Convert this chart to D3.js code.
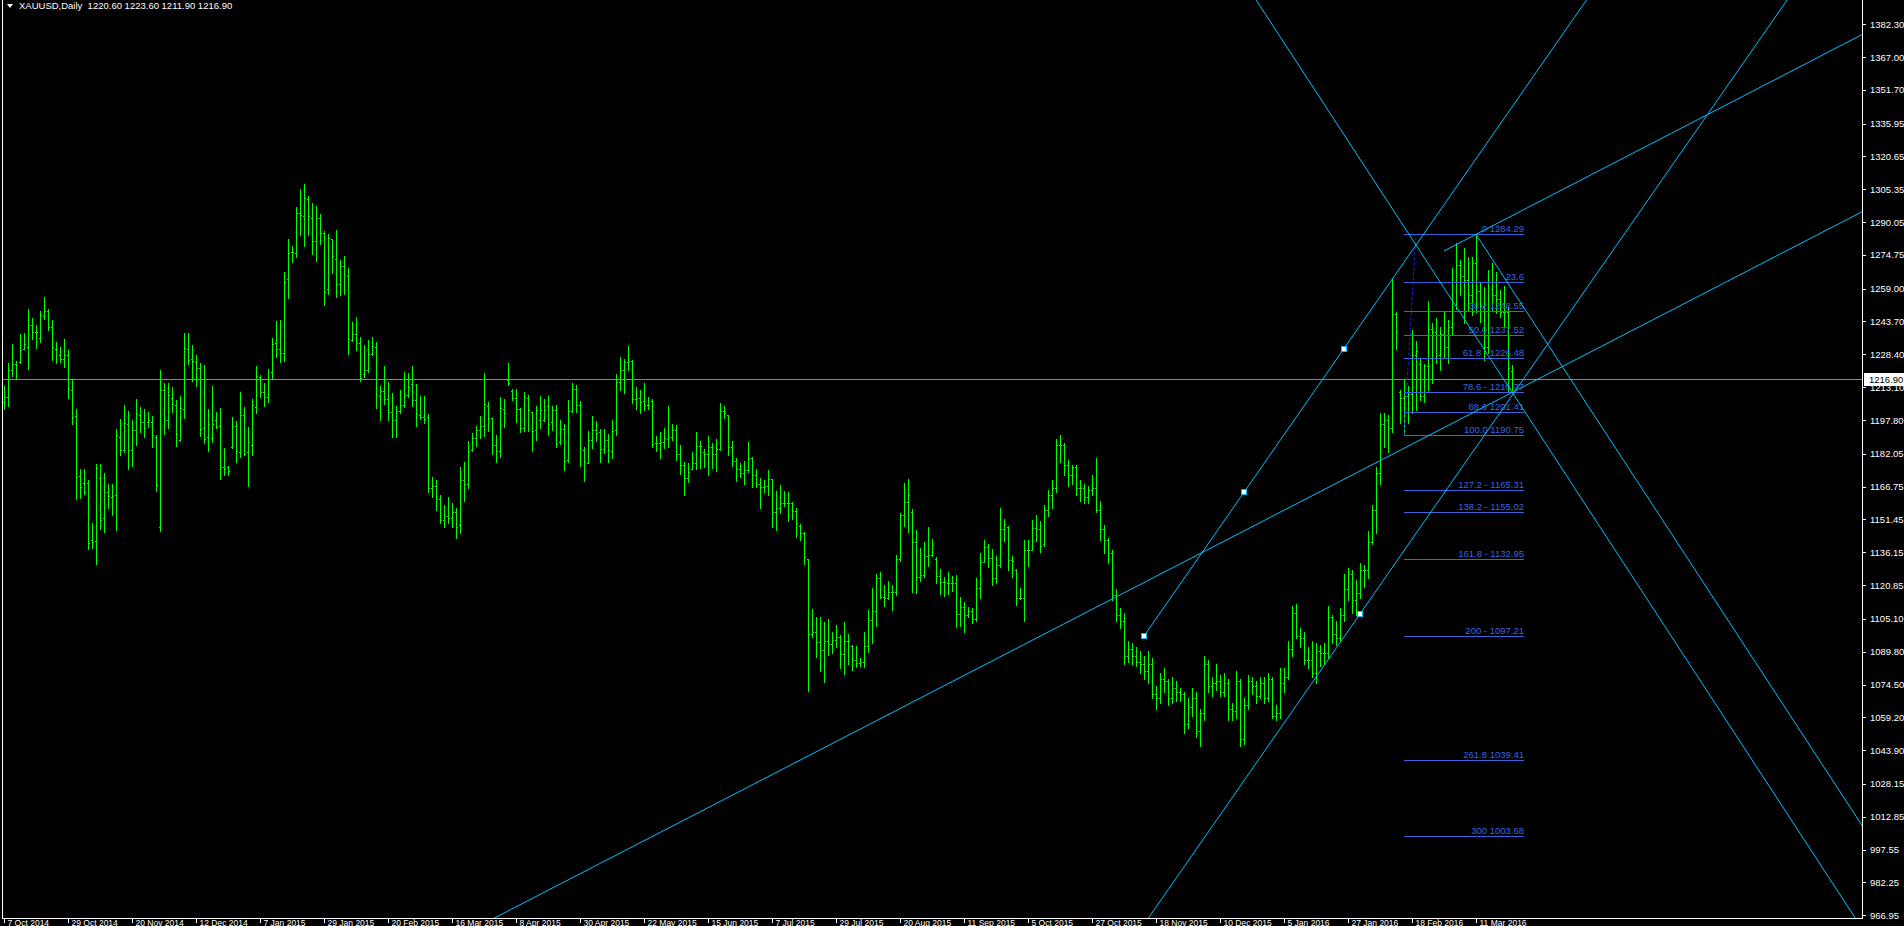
<!DOCTYPE html>
<html>
<head>
<meta charset="utf-8">
<script src="https://cdn.jsdelivr.net/npm/d3@7"></script>
<style>
html, body { margin: 0; padding: 0; background: #000; overflow: hidden; }
svg { display: block; }
text { font-family: "Liberation Sans", Arial, sans-serif; font-size: 9.5px; }
</style>
</head>
<body>
<svg id="chart" width="1904" height="926"></svg>
<script>
// daily bars, XAUUSD, 7 Oct 2014 .. 24 Mar 2016 (one entry per bar)
var barOpen = [
1206,1208.4,1221,1223.7,1225,1231,1232,1242,1239,1236,
1246.3,1248.6,1241,1231,1228,1226,1228,1212,1199.5,1171.5,
1168.4,1168.4,1141.7,1141.4,1170.6,1152,1164.1,1161.9,1162.8,1190,
1184,1196,1184,1193,1200,1197,1197,1197,1190,1147.7,
1212,1197.6,1208,1205,1188.5,1203,1231,1226,1225,1222,
1194,1190,1189.4,1198,1195,1176,1176,1185,1195,1183,
1200,1183,1186,1204,1218,1211,1208.5,1220,1233.5,1231,
1229,1263.7,1276,1275.8,1294.1,1293,1301,1292,1281,1292,
1285,1258.7,1282,1273,1261,1269.6,1265,1235,1238,1233.7,
1219,1221.1,1228.4,1232,1209,1211.5,1207.4,1201.4,1198,1202,
1204.8,1209.3,1214.6,1207,1200,1199,1199,1166,1167,1161,
1151,1153,1152,1155,1149,1170,1168,1184,1189.6,1193,
1195,1204.3,1198.6,1186,1183.3,1203,1216.4,1211.5,1208,1203,
1194,1208,1201.5,1193,1198,1198,1204.2,1196.8,1202.3,1187.7,
1193.6,1179,1201.8,1212.2,1204.8,1184,1177.9,1188.3,1193.1,1192,
1184.4,1188.5,1183.5,1193.1,1215.3,1221.1,1224.7,1225.3,1207.6,1208,
1206.6,1204.6,1206.6,1187,1187,1187.7,1189,1190,1193,1182,
1176.8,1170.6,1175,1177.6,1185.7,1183,1181.8,1185.3,1181.8,1184.3,
1201.8,1200,1185.3,1178.7,1174.9,1173.2,1174.3,1180.2,1172.1,1168.1,
1166.7,1167,1170.1,1154.7,1157,1158.9,1158.9,1159,1155.2,1148.5,
1145.3,1132.8,1098,1098.8,1094.4,1090.6,1094.6,1093.5,1095.2,1096.8,
1088.9,1094.6,1092.5,1085.9,1084.6,1084.8,1092.6,1104.4,1108.8,1124,
1115.1,1114.6,1117.4,1117.4,1132.8,1153.5,1159.4,1155,1141.1,1124.7,
1125.7,1134.4,1135,1133,1124.9,1122.1,1122,1122,1122,1107.5,
1110.6,1106.7,1108.7,1105,1119.6,1131.4,1138.7,1133.3,1124.3,1130.2,
1146.8,1148,1132.5,1128,1115,1114.6,1137,1137.2,1147.3,1146.8,
1140,1156,1163,1166,1186,1186,1177,1172,1176,1166,
1166,1162,1165,1166,1156,1147,1142,1136,1116,1107,
1104,1088,1091,1088,1085,1084,1081,1084,1070,1068,
1077,1076,1068,1073,1071,1070,1056,1064,1068,1053,
1061,1084,1074,1075,1076,1071,1075,1063,1062,1076,
1049,1065,1076,1074,1069,1075,1068,1077,1060,1061,
1075,1078,1091,1108,1097,1096,1086,1086,1080,1090,
1089,1089,1106,1098,1096,1107,1119,1126,1114,1117,
1128,1128,1141,1156,1173,1196,1198,1194,1247,1211,
1208,1209,1210,1228,1224,1209,1223,1240,1239,1228,
1238,1232,1241,1262,1270,1265,1263,1256,1271,1258,
1251,1232,1262,1256,1254,1248,1248,1220.6
];
var barHigh = [
1213.6,1224.5,1233.2,1225.4,1237.9,1238.5,1249.5,1245.3,1242.2,1248.4,
1255.1,1249.5,1244.4,1234.2,1231.7,1235.6,1230.3,1216.7,1202.9,1174.8,
1174.9,1169.8,1149.8,1177.3,1177.3,1173.1,1168,1168,1193.6,1198.4,
1204.8,1202,1197.6,1207.6,1203.8,1202.9,1201.4,1199.5,1190.8,1221.1,
1215.2,1215.2,1213,1207.3,1209,1238.3,1238.3,1232.8,1228.1,1224.2,
1223.4,1202.9,1213.5,1201.4,1203.4,1184.6,1176.5,1199,1197.3,1210.7,
1203.8,1194.7,1207.7,1223,1218.8,1215.2,1221.6,1236,1243.9,1244.4,
1266.8,1282.2,1278.9,1297.1,1305.5,1307.8,1302.4,1299,1297.7,1294,
1285.9,1284.7,1282.2,1286.4,1272.4,1274.2,1268.6,1243.3,1245.9,1236.5,
1232.8,1234.9,1236.5,1234.2,1213.6,1223,1215.5,1210.5,1204.5,1211.8,
1220.3,1219.9,1223,1214.6,1209.1,1209,1200.6,1171,1170,1163,
1158,1162,1159,1157,1176,1178,1188,1191.9,1194.8,1199.6,
1219.7,1206,1198.6,1190.8,1208.4,1207.6,1224.5,1212.1,1212.4,1203.5,
1211,1209.4,1201.5,1204.1,1209,1207.7,1209,1204.5,1204.8,1197.8,
1195.9,1207.1,1215,1213.9,1206.6,1185,1192.7,1199.5,1197.5,1193.7,
1193.7,1191.4,1197.6,1219.4,1227,1226.1,1232.3,1225.6,1213.3,1211.6,
1215,1208.7,1207.6,1190.3,1192.2,1194.1,1204.3,1196.1,1195.3,1186.1,
1178.4,1177.9,1182.9,1192.2,1188,1184.4,1190.3,1186.9,1188.9,1205.7,
1204.1,1200,1188,1180.2,1177.9,1178.7,1187.5,1180.7,1174.8,1170.9,
1170,1174.5,1170.3,1164.7,1167.5,1164.7,1164.2,1159.6,1156.8,1149.4,
1145.7,1132.8,1109.7,1105.8,1106.1,1103.6,1104.9,1098.9,1102.2,1097.4,
1103.5,1098,1092.9,1092.4,1087,1099.1,1109.1,1119.6,1125.8,1126.8,
1120.9,1122.7,1120.9,1134.7,1154.3,1168.4,1170.3,1156.4,1146.5,1138.3,
1140.9,1147.8,1142.2,1134.1,1128.3,1124.7,1126.8,1125.2,1125.5,1115.1,
1113.1,1110.4,1110,1124.3,1136,1141.8,1139.8,1137.5,1134.5,1156.8,
1151.5,1148.2,1134.5,1128.5,1119.6,1141.7,1141.8,1151.2,1153.5,1150.8,
1158,1165,1170,1189,1191,1187,1179,1177,1177,1170,
1168,1167,1172,1180,1160,1149,1143,1137,1119,1110,
1108,1095,1094,1092,1090,1088,1090,1087,1074,1080,
1082,1077,1078,1076,1073,1071,1068,1073,1071,1063,
1088,1086,1078,1084,1079,1080,1077,1066,1081,1077,
1068,1079,1078,1076,1078,1078,1080,1078,1065,1082,
1082,1095,1111,1112,1101,1099,1092,1095,1094,1093,
1094,1111,1107,1104,1110,1126,1129,1128,1123,1131,
1130,1146,1158,1176,1201,1201,1200,1263.8,1248,1211.8,
1216.4,1213.6,1239.7,1234.6,1226.5,1224,1253.4,1242.8,1245.2,1241.3,
1248.3,1244.4,1268.5,1280.1,1272.4,1278.1,1273.9,1273.9,1284.3,1262.3,
1259.9,1267.7,1270.8,1266.9,1258.4,1260.2,1250.6,1223.6
];
var barLow = [
1202.8,1204.3,1218.3,1216.7,1224.5,1230.7,1221.7,1235.4,1231.5,1234.3,
1245,1239.9,1225.8,1224.5,1225,1222.3,1208.2,1195.8,1160.9,1161.6,
1163.4,1137.5,1137.9,1130.8,1147.1,1145.7,1156.7,1153.5,1146.7,1181.5,
1183,1175,1176.5,1186.3,1192.3,1190,1194.7,1185.4,1164.8,1146.2,
1191.3,1194.2,1201.4,1185.8,1188.2,1198.9,1224,1215.8,1213.8,1190.3,
1187.2,1183.5,1187.4,1193.9,1170.4,1172.3,1172.3,1184.6,1178.4,1180.4,
1181.5,1167.2,1181.6,1201.2,1208.4,1204.5,1206.3,1216.9,1227.3,1224.7,
1225.4,1254.8,1271.6,1273.9,1284,1279.1,1284.2,1275.3,1272.1,1279.7,
1251.6,1256.5,1266.2,1255.3,1256.1,1256.4,1228.4,1234.8,1230.6,1216.1,
1217.8,1220,1228.1,1203.5,1197.6,1205.1,1197.9,1189.7,1190,1201.1,
1203.7,1208.4,1204.3,1195.1,1198.3,1196.4,1164,1162,1156,1150,
1148,1150,1148,1143,1145,1160,1166,1183.2,1185.5,1189.4,
1190.2,1192.8,1182.1,1178.4,1180.7,1194.7,1213.9,1207.3,1197,1192.3,
1192.8,1192.6,1183.5,1188.5,1194.1,1197.2,1190.8,1193.1,1185.4,1186.4,
1174.5,1178,1201.5,1201.7,1176.3,1169.5,1177.6,1184.6,1187.8,1178.2,
1182.6,1178.2,1180.2,1190.8,1211.8,1210.5,1221.1,1205.6,1203.1,1201.2,
1202.4,1203.1,1185.4,1183.5,1180.2,1184.6,1185.4,1188.5,1179.3,1172.6,
1162.7,1169,1174.8,1174.8,1175.6,1175.9,1172.3,1175.6,1174,1183.8,
1198.9,1181.6,1176.2,1169.5,1171.4,1168,1173.7,1166.5,1166.7,1156.9,
1164.2,1162.7,1147.8,1146.7,1154.6,1157.5,1150.8,1151.8,1143.2,1142,
1130.8,1071.6,1096.8,1087.1,1080.9,1075.8,1088.2,1089,1092.1,1082,
1079.5,1083.9,1081.1,1082.6,1083.3,1082.5,1089.6,1093.7,1101.8,1115,
1111.2,1114.2,1109.2,1116.2,1132,1148.4,1145.7,1117.4,1117.3,1122.6,
1124.7,1129.9,1134.4,1121.6,1116.5,1115.7,1116.5,1118.1,1101.1,1101.9,
1098.8,1105.8,1103,1104.2,1115,1131.4,1129.4,1120.9,1121.9,1129.5,
1141.4,1128,1124.4,1111.5,1114.2,1104.2,1129.9,1137,1141.5,1136.4,
1139,1153,1157,1164,1178,1172,1167,1168,1163,1160,
1159,1159,1163,1155,1142,1136,1131,1114,1104,1101,
1084,1085,1084,1083,1080,1077,1075,1068,1063,1066,
1071,1065,1066,1067,1067,1052,1054,1060,1050,1046,
1058,1071,1069,1072,1069,1069,1058,1058,1059,1046,
1047,1063,1070,1066,1068,1066,1067,1059,1058,1059,
1071,1077,1088,1096,1092,1084,1082,1078,1075,1083,
1084,1087,1094,1093,1095,1104,1114,1108,1107,1115,
1120,1124,1140,1145,1168,1185,1183,1192,1231,1196.2,
1190.8,1196.2,1200.9,1202.4,1207.1,1206,1211.8,1214.9,1224.2,1221.1,
1227.3,1224.2,1237.4,1249.4,1256.1,1242.8,1249.1,1246.7,1248,1243.6,
1225.7,1229,1249.1,1247.5,1245.9,1241.3,1211,1211.9
];
var barClose = [
1208.4,1220.9,1223.7,1223.3,1230.3,1233,1242,1239,1238.7,1246.6,
1248.4,1241.3,1231.7,1230.9,1226,1228.2,1212.1,1199.3,1171.4,1166.4,
1164,1140.3,1141.1,1175.2,1151.2,1164,1162.2,1162.5,1190.6,1183.8,
1196.2,1184,1193.3,1200.4,1196.7,1194.2,1198,1191,1167.3,1211.6,
1198,1209.3,1205.4,1191.3,1203.2,1231.2,1225.8,1225.3,1222,1193.4,
1188.9,1195.9,1195.9,1194.4,1175.7,1175,1174,1195.1,1183.2,1200,
1181.8,1187.5,1204.6,1218.3,1210.8,1208.4,1216.9,1233,1231,1228.9,
1262.3,1275.5,1276,1294.3,1293.2,1301.1,1293,1281.1,1292,1285,
1257.3,1282.5,1274.1,1261.2,1269.6,1265.4,1235.4,1238,1233.7,1217.2,
1221.1,1228.4,1232.1,1209.4,1211.5,1207.4,1201.4,1198,1201.8,1204.8,
1209.3,1213,1207,1200.4,1199,1198.4,1166,1167,1161,1151,
1153,1152,1155,1148,1170,1168,1183.3,1189.6,1193,1195.1,
1205.1,1198.6,1186.1,1183.3,1203.2,1201,1215.2,1208,1202.8,1194,
1208.5,1202.6,1192.5,1202.3,1202.4,1202.3,1195.8,1202.3,1186.6,1193.6,
1178.8,1201.8,1212.2,1204.8,1184.3,1178,1188.3,1193.1,1191.9,1184.4,
1188.5,1184,1192.8,1215.3,1221.1,1224.7,1225.3,1207.6,1208.2,1206,
1204.6,1204.6,1186.7,1187,1187.6,1189.2,1190,1193,1182,1176.8,
1170.6,1173.7,1177.6,1185.7,1185.5,1181.8,1185.3,1181.8,1184.3,1201.8,
1201.2,1185.3,1178.7,1174.9,1173.2,1174.3,1180.2,1172.1,1168.1,1166.7,
1167,1170.1,1154.7,1157,1158.9,1158.9,1159,1155.2,1149.6,1145.3,
1133.7,1098,1098.8,1094.4,1090.6,1094.6,1093.5,1095.2,1096.8,1088.9,
1094.6,1094.9,1085.9,1084.6,1084.8,1092.6,1104.4,1108.8,1124,1115.1,
1114.6,1117.4,1117.4,1132.8,1153.5,1159.4,1162.8,1141.1,1124.7,1125.7,
1134.4,1135,1139.5,1124.9,1122.1,1122.1,1122,1122,1107.5,1110.6,
1106.7,1108.7,1105,1119.6,1131.4,1138.7,1133.3,1124.3,1130.2,1146.8,
1149.1,1132.5,1132,1115,1114.6,1137,1137.2,1147.3,1146.8,1139,
1156,1163,1166,1186,1186,1177,1172,1176,1166,1166,
1162,1165,1166,1156,1147,1142,1136,1116,1107,1104,
1088,1091,1088,1085,1084,1081,1084,1070,1068,1077,
1076,1068,1073,1071,1070,1056,1064,1068,1053,1061,
1084,1074,1075,1076,1071,1075,1063,1062,1076,1049,
1065,1076,1074,1069,1075,1068,1077,1060,1061,1075,
1078,1091,1108,1097,1096,1086,1086,1080,1090,1089,
1089,1106,1098,1096,1107,1119,1126,1114,1117,1128,
1128,1141,1156,1173,1196,1198,1194,1247,1239,1208,
1209,1210,1228,1230,1209,1223,1240,1239,1228,1238,
1232,1241,1262,1270,1265,1263,1256,1271,1258,1251,
1232,1262,1256,1254,1248,1248,1222,1216.9
];

// axis labels
var priceTicks = [1382.30,1367.00,1351.70,1335.95,1320.65,1305.35,1290.05,1274.75,1259.00,1243.70,
  1228.40,1213.10,1197.80,1182.05,1166.75,1151.45,1136.15,1120.85,1105.10,1089.80,
  1074.50,1059.20,1043.90,1028.15,1012.85,997.55,982.25,966.95];
var dateTickBars = [0,16,32,48,64,80,96,112,128,144,160,176,192,208,224,240,256,272,288,304,320,336,352,368];
var dateTickLabels = ["7 Oct 2014","29 Oct 2014","20 Nov 2014","12 Dec 2014","7 Jan 2015","29 Jan 2015",
  "20 Feb 2015","16 Mar 2015","8 Apr 2015","30 Apr 2015","22 May 2015","15 Jun 2015","7 Jul 2015",
  "29 Jul 2015","20 Aug 2015","11 Sep 2015","5 Oct 2015","27 Oct 2015","18 Nov 2015","10 Dec 2015",
  "5 Jan 2016","27 Jan 2016","18 Feb 2016","11 Mar 2016"];

var lastPrice = 1216.90;
var headerText = "XAUUSD,Daily  1220.60 1223.60 1211.90 1216.90";

// trend lines: anchors in (bar, price); extendLeft = also run back past the first anchor
var lineBar1   = [224,    360,    285,    285,   340,    368];
var linePrice1 = [1063.3, 1276.6, 1097.1, 962.7, 1316.5, 1284.29];
var lineBar2   = [377,    377,    335,    339,   377,    377];
var linePrice2 = [1210.6, 1293.0, 1231.1, 1107.4, 1210.8, 1258.6];
var lineExtendLeft = [true, false, false, false, true, false];

// channel anchor handles
var handleBars   = [285, 310, 335, 339];
var handlePrices = [1097.1, 1164.1, 1231.1, 1107.4];

// fibonacci
var fibLevelPrices = [1284.29,1262.21,1248.55,1237.52,1226.48,1210.77,1201.41,1190.75,1165.31,1155.02,1132.95,1097.21,1039.41,1003.68];
var fibLevelLabels = ["0 1284.29","23.6","38.2 1248.55","50.0 1237.52","61.8 - 1226.48","78.6 - 1210.77","88.6 1201.41",
  "100.0 1190.75","127.2 - 1165.31","138.2 - 1155.02","161.8 -  1132.95","200 - 1097.21","261.8 1039.41","300 1003.68"];
var fibFromBar = 350, fibToBar = 380;
var fibTrendBars = [350, 353];
var fibTrendPrices = [1190.75, 1284.29];

var W = 1904, H = 926;
var plotRight = 1862, plotBottom = 918;

var svg = d3.select("#chart");
svg.append("rect").attr("width", W).attr("height", H).attr("fill", "#000");

var x = d3.scaleLinear().domain([0, 464.5]).range([4, plotRight]);
var y = d3.scaleLinear().domain([965.67, 1393.55]).range([plotBottom, 0]);

svg.append("defs").append("clipPath").attr("id", "plotClip")
  .append("rect").attr("x", 3).attr("y", 0).attr("width", plotRight - 3).attr("height", plotBottom);

var plot = svg.append("g").attr("clip-path", "url(#plotClip)");

// bid line
plot.append("line")
  .attr("x1", 3).attr("x2", plotRight)
  .attr("y1", Math.round(y(lastPrice)) + 0.5).attr("y2", Math.round(y(lastPrice)) + 0.5)
  .attr("stroke", "#778899").attr("stroke-width", 1);

// OHLC bars
var bars = plot.append("g").attr("shape-rendering", "crispEdges").attr("fill", "#00ff00");
barClose.forEach(function(c, i) {
  var bx = Math.round(x(i));
  var yh = Math.round(y(barHigh[i])), yl = Math.round(y(barLow[i]));
  bars.append("rect").attr("x", bx).attr("y", yh).attr("width", 1).attr("height", Math.max(1, yl - yh + 1));
  bars.append("rect").attr("x", bx - 1).attr("y", Math.round(y(barOpen[i]))).attr("width", 1).attr("height", 1);
  bars.append("rect").attr("x", bx + 1).attr("y", Math.round(y(c))).attr("width", 1).attr("height", 1);
});

// fibonacci levels
var fib = plot.append("g");
fibLevelPrices.forEach(function(p, k) {
  var ly = Math.round(y(p)) + 0.5;
  fib.append("line").attr("x1", x(fibFromBar)).attr("x2", x(fibToBar))
    .attr("y1", ly).attr("y2", ly).attr("stroke", "#3b63e0").attr("stroke-width", 1);
  fib.append("text").attr("x", x(fibToBar)).attr("y", ly - 2.5)
    .attr("text-anchor", "end").attr("fill", "#3b63e0").text(fibLevelLabels[k]);
});
fib.append("line")
  .attr("x1", x(fibTrendBars[0])).attr("y1", y(fibTrendPrices[0]))
  .attr("x2", x(fibTrendBars[1])).attr("y2", y(fibTrendPrices[1]))
  .attr("stroke", "#1c1cff").attr("stroke-width", 1).attr("stroke-dasharray", "3,2");

// trend lines / channels
var tl = plot.append("g");
lineBar1.forEach(function(b1, k) {
  var slope = (linePrice2[k] - linePrice1[k]) / (lineBar2[k] - b1);
  var startBar = lineExtendLeft[k] ? -100 : b1;
  var endBar = 600;
  tl.append("line")
    .attr("x1", x(startBar)).attr("y1", y(linePrice1[k] + slope * (startBar - b1)))
    .attr("x2", x(endBar)).attr("y2", y(linePrice1[k] + slope * (endBar - b1)))
    .attr("stroke", "#00bfff").attr("stroke-width", 1);
});

// selected-object handles
handleBars.forEach(function(b, k) {
  plot.append("rect")
    .attr("x", Math.round(x(b)) - 2.5).attr("y", Math.round(y(handlePrices[k])) - 2.5)
    .attr("width", 5).attr("height", 5)
    .attr("fill", "#fff").attr("stroke", "#00bfff").attr("stroke-width", 1);
});

// frame
var frame = svg.append("g").attr("stroke", "#fff").attr("stroke-width", 1).attr("shape-rendering", "crispEdges");
frame.append("line").attr("x1", 2.5).attr("x2", 2.5).attr("y1", 0).attr("y2", plotBottom + 0.5);
frame.append("line").attr("x1", 2.5).attr("x2", plotRight + 0.5).attr("y1", plotBottom + 0.5).attr("y2", plotBottom + 0.5);
frame.append("line").attr("x1", plotRight + 0.5).attr("x2", plotRight + 0.5).attr("y1", 0).attr("y2", plotBottom + 0.5);

// price axis
var yAxis = d3.axisRight(y).tickValues(priceTicks).tickSize(3).tickPadding(4)
  .tickFormat(d3.format(".2f"));
var gy = svg.append("g").attr("transform", "translate(" + (plotRight + 1) + ",0)").call(yAxis);
gy.select(".domain").remove();
gy.selectAll(".tick line").attr("stroke", "#fff").attr("shape-rendering", "crispEdges");
gy.selectAll(".tick text").attr("fill", "#fff").style("font-family", "Liberation Sans, Arial, sans-serif").style("font-size", "9.5px");

// current price label
var lp = Math.round(y(lastPrice));
svg.append("rect").attr("x", plotRight + 2).attr("y", lp - 6).attr("width", W - plotRight - 2).attr("height", 13).attr("fill", "#fff");
svg.append("text").attr("x", plotRight + 7).attr("y", lp + 3.5).attr("fill", "#000").text(d3.format(".2f")(lastPrice));

// time axis (labels sit against the bottom edge of the window)
var xAxis = d3.axisBottom(x).tickValues(dateTickBars).tickSize(4).tickSizeOuter(0)
  .tickFormat(function(d, i) { return dateTickLabels[i]; });
var gx = svg.append("g").attr("transform", "translate(0," + (plotBottom + 1) + ")").call(xAxis);
gx.select(".domain").remove();
gx.selectAll(".tick line").attr("stroke", "#fff").attr("shape-rendering", "crispEdges");
gx.selectAll(".tick text").attr("fill", "#fff").attr("text-anchor", "start")
  .attr("x", 3).attr("y", 6.5).attr("dy", 0)
  .style("font-family", "Liberation Sans, Arial, sans-serif").style("font-size", "8.5px");

// header
svg.append("path").attr("d", "M7,4 L13,4 L10,8 Z").attr("fill", "#fff");
svg.append("text").attr("x", 19).attr("y", 9).attr("fill", "#fff").attr("xml:space", "preserve").style("white-space", "pre").text(headerText);
</script>
</body>
</html>
